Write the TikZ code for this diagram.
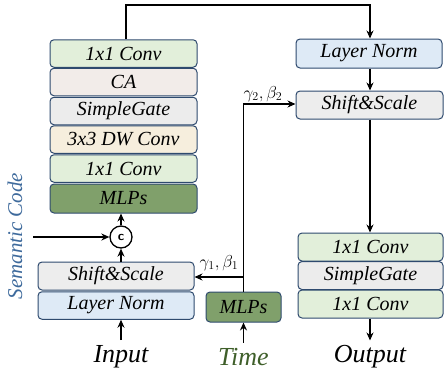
\documentclass[tikz,border=0pt]{standalone}
\usepackage{fontspec}
\setmainfont{Liberation Serif}
\usetikzlibrary{arrows.meta}
\definecolor{convg}{HTML}{E2EFDA}
\definecolor{cac}{HTML}{F2ECE9}
\definecolor{sgc}{HTML}{ECECEC}
\definecolor{dwc}{HTML}{F6EEDD}
\definecolor{mlpc}{HTML}{80A06B}
\definecolor{ssc}{HTML}{EDEDED}
\definecolor{lnc}{HTML}{DEEAF6}
\definecolor{bord}{HTML}{2E4A6E}
\definecolor{semc}{HTML}{3E6A9C}
\definecolor{timec}{HTML}{3F5F2A}
\tikzset{
  blk/.style={draw=bord, line width=1pt, rounded corners=4pt, inner sep=0pt,
    font=\rmfamily\itshape\fontsize{20}{22}\selectfont},
  lbl/.style={font=\rmfamily\itshape\fontsize{26}{28}\selectfont},
  arr/.style={line width=1.3pt, -{Stealth[length=8pt,width=7pt]}},
  glab/.style={font=\fontsize{17}{19}\selectfont, inner sep=1pt}
}
\begin{document}
\begin{tikzpicture}[x=1pt,y=-1pt]
\useasboundingbox (0,0) rectangle (444,375);
% left stack
\node[blk, fill=convg, minimum width=147pt, minimum height=27.5pt] (c1) at (123.5,53.5) {1x1 Conv};
\node[blk, fill=cac, minimum width=147pt, minimum height=27.5pt] (ca) at (123.5,82) {CA};
\node[blk, fill=sgc, minimum width=147pt, minimum height=27.5pt] (sg) at (123.5,111) {SimpleGate};
\node[blk, fill=dwc, minimum width=147pt, minimum height=27.5pt] (dw) at (123.5,139.5) {3x3 DW Conv};
\node[blk, fill=convg, minimum width=147pt, minimum height=27.5pt] (c2) at (123.5,168.5) {1x1 Conv};
\node[blk, fill=mlpc, minimum width=147pt, minimum height=29pt] (mlp) at (123.5,198.5) {MLPs};
\node[circle, draw, line width=1.3pt, minimum size=22pt, inner sep=0pt,
  font=\sffamily\bfseries\fontsize{13}{14}\selectfont] (cc) at (121,237) {c};
\node[blk, fill=ssc, minimum width=156pt, minimum height=28pt] (ss1) at (116,276) {Shift\&Scale};
\node[blk, fill=lnc, minimum width=156pt, minimum height=27.5pt] (ln1) at (116,305.5) {Layer Norm};
\node[lbl] (inp) at (121,357) {Input};
\node[text=semc, rotate=90, font=\rmfamily\itshape\fontsize{21}{23}\selectfont] (sem) at (15,236) {Semantic Code};
\coordinate (semstart) at (33,237);
% right
\node[blk, fill=lnc, minimum width=146pt, minimum height=29pt] (ln2) at (369,53.5) {Layer Norm};
\node[blk, fill=ssc, minimum width=147pt, minimum height=28pt] (ss2) at (369.5,105) {Shift\&Scale};
\node[blk, fill=convg, minimum width=145pt, minimum height=28pt] (r1) at (370.5,247) {1x1 Conv};
\node[blk, fill=sgc, minimum width=145pt, minimum height=28pt] (r2) at (370.5,275.5) {SimpleGate};
\node[blk, fill=convg, minimum width=145pt, minimum height=28pt] (r3) at (370.5,304) {1x1 Conv};
\node[lbl] (out) at (370,357) {Output};
% time
\node[blk, fill=mlpc, minimum width=75pt, minimum height=30pt] (tm) at (243.5,307) {MLPs};
\node[lbl, text=timec] (time) at (243.5,357) {Time};
\coordinate (top1) at (126,5);
\coordinate (top2) at (370,5);
\coordinate (br2) at (243.5,104);
\coordinate (br1) at (243.5,277);
% connectors
\draw[arr] (inp.north) ++(0,-2) -- (ln1.south -| inp.north);
\draw[arr] (ss1.north -| cc) -- (cc.south);
\draw[arr] (cc.north) -- (mlp.south -| cc);
\draw[arr] (semstart) -- (cc.west);
\draw[arr] (c1.north -| top1) -- (top1) -- (top2) -- (ln2.north -| top2);
\draw[arr] (ln2.south -| top2) -- (ss2.north -| top2);
\draw[arr] (ss2.south -| top2) -- (r1.north -| top2);
\draw[arr] (r3.south -| top2) -- ++(0,22);
\draw[arr] (time.north) ++(0,-2) -- (tm.south);
\draw[arr] (tm.north) -- (br2) -- (ss2.west |- br2);
\draw[arr] (br1) -- (ss1.east |- br1);
\node[glab] at (263,94) {$\gamma_2,\beta_2$};
\node[glab] at (219,263) {$\gamma_1,\beta_1$};
\end{tikzpicture}
\end{document}
